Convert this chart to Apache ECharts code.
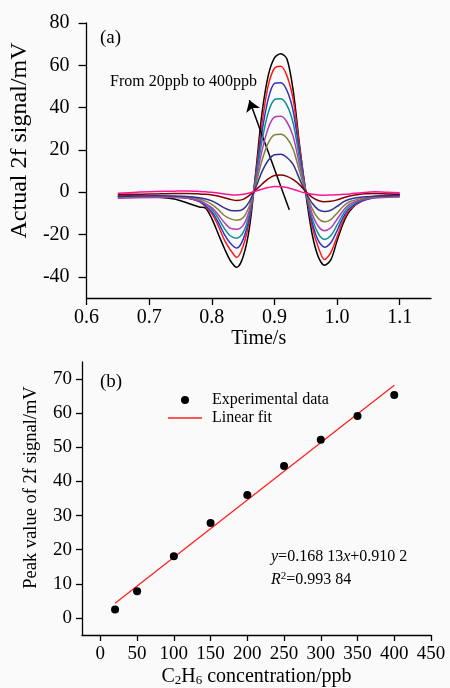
<!DOCTYPE html>
<html><head><meta charset="utf-8">
<script src="https://cdn.jsdelivr.net/npm/echarts@6/dist/echarts.min.js"></script>
<style>html,body{margin:0;padding:0;background:#fff}#c{width:450px;height:688px}</style>
</head><body><div id="c"></div>
<script>
// ---------- (a) 2f signal curves ----------
const time = [0.65,0.68,0.71,0.74,0.76,0.78,0.79,0.80,0.81,0.82,0.83,0.84,0.85,0.86,0.87,0.88,0.89,0.90,0.91,0.92,0.93,0.94,0.95,0.96,0.97,0.98,0.99,1.00,1.01,1.02,1.04,1.06,1.08,1.10];
const sig400 = [-1.5,-1.8,-2.2,-3.2,-5.0,-7.0,-7.5,-12.5,-19.5,-26.5,-32.5,-35.5,-30.5,-17,9,37,55,63.5,65.5,63,48,22.5,-0.5,-19.5,-30.5,-34.5,-32,-23,-14.5,-9,-3.5,-2,-1.5,-1];
const sig350 = [-1.8,-2.0,-2.1,-2.3,-2.6,-4.4,-6.8,-10.1,-15.7,-22.5,-27.4,-30.8,-25.4,-13.5,7.9,32.4,50.3,58.6,59.6,55.0,43.7,21.6,0.8,-15.9,-26.0,-31.8,-28.5,-21.0,-13.3,-8.3,-4.2,-2.4,-2.0,-1.8];
const sig300 = [-2.0,-2.2,-2.3,-2.4,-2.7,-4.3,-6.4,-9.3,-14.0,-19.9,-24.2,-26.4,-22.3,-11.9,6.9,28.3,44.0,51.5,51.8,48.1,38.2,18.9,0.6,-14.0,-22.9,-26.0,-23.9,-18.2,-11.8,-7.6,-4.1,-2.6,-2.2,-2.0];
const sig250 = [-2.2,-2.0,-2.1,-2.3,-2.6,-3.9,-5.6,-8.0,-12.1,-17.1,-20.7,-21.7,-19.1,-10.2,5.8,24.1,37.5,43.8,44.2,41.1,32.6,16.1,0.5,-12.0,-19.6,-22.3,-20.5,-15.6,-10.2,-6.6,-3.6,-2.4,-2.0,-1.6];
const sig200 = [-2.8,-2.6,-2.5,-2.5,-2.7,-4.0,-5.4,-7.3,-10.5,-14.3,-17.1,-17.5,-15.7,-8.5,4.6,19.4,30.3,35.5,35.9,33.2,26.3,12.9,0.2,-9.9,-16.1,-18.2,-16.8,-12.8,-8.6,-5.6,-3.4,-2.6,-2.4,-2.2];
const sig150 = [-2.2,-2.0,-1.9,-2.0,-2.3,-3.2,-4.2,-5.7,-8.1,-11.0,-12.6,-13.2,-12.1,-6.5,3.5,14.9,23.2,27.1,27.4,25.5,20.2,9.9,0.2,-7.6,-12.4,-14.0,-12.9,-9.9,-6.6,-4.5,-2.9,-2.2,-2.0,-1.8];
const sig100 = [-2.0,-1.8,-1.7,-1.8,-2.0,-2.6,-3.2,-4.1,-5.6,-7.4,-8.6,-8.8,-8.0,-4.4,2.1,9.6,15.0,17.7,17.9,16.4,13.0,6.3,0.0,-5.1,-8.2,-9.1,-8.5,-6.7,-4.6,-3.3,-2.3,-1.9,-1.8,-1.6];
const sig50  = [-1.0,-1.0,-0.8,-0.6,-0.6,-0.8,-1.0,-1.3,-1.8,-2.6,-3.4,-3.9,-3.4,-1.5,1.0,3.8,6.3,7.9,8.1,7.5,6.0,3.6,0.3,-2.3,-3.9,-4.5,-4.3,-3.6,-2.6,-1.8,-0.8,-0.6,-0.8,-1.0];
const sig20  = [-0.5,0.0,0.3,0.5,0.6,0.4,0.2,0.0,-0.4,-0.8,-1.2,-1.3,-1.0,-0.4,0.5,1.4,2.2,2.7,2.6,2.2,1.4,0.4,-0.4,-1.0,-1.3,-1.4,-1.3,-1.2,-1.0,-0.8,-0.2,0.2,0.0,-0.3];
const curveNames = ['400ppb','350ppb','300ppb','250ppb','200ppb','150ppb','100ppb','50ppb','20ppb'];
const curveData = [sig400,sig350,sig300,sig250,sig200,sig150,sig100,sig50,sig20];
const curveColors = ['#000000','#ff1a1a','#3232c8','#0a9090','#b43cb4','#80803c','#30309a','#800000','#ff1493'];
const arrowFrom = [0.9237,-8.3];
const arrowTo = [0.860,43.5];
const xTicksA = [0.6,0.7,0.8,0.9,1.0,1.1];
const yTicksA = [-40,-20,0,20,40,60,80];

// ---------- (b) peak value vs concentration ----------
const concentration = [20,50,100,150,200,250,300,350,400];
const peakValue = [2.5,7.8,18.1,27.8,36.0,44.5,52.2,59.2,65.3];
const fitX = [20,400];
const fitY = [4.3,68.2];
const xTicksB = [0,50,100,150,200,250,300,350,400,450];
const yTicksB = [0,10,20,30,40,50,60,70];

const FF = "'Liberation Serif','Times New Roman',serif";
const axisLineStyle = {color:'#000', width:1.3};

const chart = echarts.init(document.getElementById('c'));

const series = curveData.map((arr,k)=>({
  name: curveNames[k], type:'line', xAxisIndex:0, yAxisIndex:0,
  data: time.map((t,i)=>[t, arr[i]]),
  showSymbol:false, symbol:'none', smooth:0.3,
  lineStyle:{color:curveColors[k], width:1.5},
  itemStyle:{color:curveColors[k]},
  silent:true, z: 2+k
}));
series[0].markLine = {
  silent:true, symbol:['none','arrow'], symbolSize:11,
  label:{show:false},
  lineStyle:{color:'#000', width:1.5, type:'solid'},
  data:[[{coord:arrowFrom},{coord:arrowTo}]]
};
series.push({
  name:'Linear fit', type:'line', xAxisIndex:1, yAxisIndex:1,
  data: fitX.map((x,i)=>[x, fitY[i]]),
  symbol:'none', lineStyle:{color:'#ff2020', width:1.3}, itemStyle:{color:'#ff2020'}, silent:true, z:3
});
series.push({
  name:'Experimental data', type:'scatter', xAxisIndex:1, yAxisIndex:1,
  data: concentration.map((x,i)=>[x, peakValue[i]]),
  symbol:'circle', symbolSize:8, itemStyle:{color:'#000', opacity:1}, silent:true, z:4
});

const option = {
  animation:false,
  backgroundColor:'#fafafa',
  grid:[
    {left:82, right:19, top:23, height:275, containLabel:false},
    {left:82, right:19, top:362, height:278, containLabel:false}
  ],
  xAxis:[
    {type:'value', gridIndex:0, min:0.6, max:1.15,
     axisLine:{show:true, onZero:false, lineStyle:axisLineStyle},
     axisTick:{show:true, length:7, customValues:xTicksA, lineStyle:axisLineStyle},
     axisLabel:{customValues:xTicksA, margin:10, fontFamily:FF, fontSize:20, color:'#000', formatter:v=>v.toFixed(1)},
     splitLine:{show:false},
     name:'Time/s', nameLocation:'middle', nameGap:31,
     nameTextStyle:{fontFamily:FF, fontSize:20, color:'#000'}},
    {type:'value', gridIndex:1, min:-25, max:450,
     axisLine:{show:true, onZero:false, lineStyle:axisLineStyle},
     axisTick:{show:true, length:6, customValues:xTicksB, lineStyle:axisLineStyle},
     axisLabel:{customValues:xTicksB, margin:10, fontFamily:FF, fontSize:19, color:'#000'},
     splitLine:{show:false},
     name:'{n|C}{s|2}{n|H}{s|6}{n| concentration/ppb}', nameLocation:'middle', nameGap:26,
     nameTextStyle:{fontFamily:FF, fontSize:20, color:'#000',
       rich:{n:{fontFamily:FF, fontSize:20, color:'#000', lineHeight:26, verticalAlign:'bottom'},
             s:{fontFamily:FF, fontSize:13, color:'#000', lineHeight:14, verticalAlign:'bottom'}}}}
  ],
  yAxis:[
    {type:'value', gridIndex:0, min:-50, max:80,
     axisLine:{show:true, onZero:false, lineStyle:axisLineStyle},
     axisTick:{show:true, length:8, customValues:yTicksA, lineStyle:axisLineStyle},
     axisLabel:{customValues:yTicksA, margin:17, fontFamily:FF, fontSize:20, color:'#000'},
     splitLine:{show:false},
     name:'Actual 2f signal/mV', nameLocation:'middle', nameGap:48,
     nameTextStyle:{fontFamily:FF, fontSize:24, color:'#000', padding:[0,0,0,40]}},
    {type:'value', gridIndex:1, min:-5, max:75,
     axisLine:{show:true, onZero:false, lineStyle:axisLineStyle},
     axisTick:{show:true, length:6, customValues:yTicksB, lineStyle:axisLineStyle},
     axisLabel:{customValues:yTicksB, margin:10, fontFamily:FF, fontSize:19, color:'#000'},
     splitLine:{show:false},
     name:'Peak value of 2f signal/mV', nameLocation:'middle', nameGap:41,
     nameTextStyle:{fontFamily:FF, fontSize:18.5, color:'#000', padding:[0,0,0,22]}}
  ],
  legend:{
    show:true, orient:'vertical', left:163, top:387, itemGap:2,
    itemWidth:34, itemHeight:8, selectedMode:false,
    textStyle:{fontFamily:FF, fontSize:16, color:'#000', padding:[0,0,0,5]},
    data:[
      {name:'Experimental data', icon:'circle', itemStyle:{color:'#000', opacity:1}},
      {name:'Linear fit', icon:'path://M0,0H34V1.3H0Z', itemStyle:{color:'#ff2020'}}
    ]
  },
  graphic:[
    {type:'text', left:100, top:29, style:{text:'(a)', font:'19px '+FF, fill:'#000'}},
    {type:'text', left:110, top:74, style:{text:'From 20ppb to 400ppb', font:'16px '+FF, fill:'#000'}},
    {type:'text', left:100, top:373, style:{text:'(b)', font:'19px '+FF, fill:'#000'}},
    {type:'text', left:271, top:549, style:{
      text:'{i|y}{n|=0.168 13}{i|x}{n|+0.910 2}',
      rich:{i:{fontFamily:FF, fontSize:16, fontStyle:'italic', fill:'#000', lineHeight:18},
            n:{fontFamily:FF, fontSize:16, fill:'#000', lineHeight:18}}}},
    {type:'text', left:271, top:571, style:{
      text:'{i|R}{p|2}{n|=0.993 84}',
      rich:{i:{fontFamily:FF, fontSize:16, fontStyle:'italic', fill:'#000', lineHeight:18},
            p:{fontFamily:FF, fontSize:11, fill:'#000', lineHeight:11, verticalAlign:'top'},
            n:{fontFamily:FF, fontSize:16, fill:'#000', lineHeight:18}}}}
  ],
  series: series
};
chart.setOption(option);
</script>
</body></html>
